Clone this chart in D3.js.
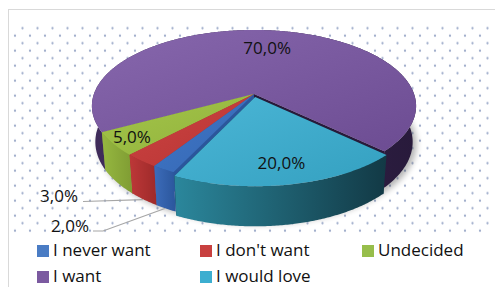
<!DOCTYPE html>
<meta charset="utf-8">
<script src="https://d3js.org/d3.v7.min.js"></script>
<style>
  body { margin: 0; background: #fff; }
  text { font-family: "Open Sans", sans-serif; }
</style>
<div id="chart"></div>
<script>

// data
var categories = ["I never want", "I don't want", "Undecided", "I want", "I would love"];
var values = [2, 3, 5, 70, 20];
var labels = ["2,0%", "3,0%", "5,0%", "70,0%", "20,0%"];

var topColors  = [["#4178c6", "#3466b4"], ["#cc4442", "#b83434"], ["#a3c54a", "#92b23c"], ["#8767ad", "#6c4c92"], ["#4bb6d6", "#34a0c0"]];
var wallColors = [["#3c6cba", "#2b569c"], ["#bd3838", "#9e2a2a"], ["#96b840", "#7f9c33"], ["#3f2b5a", "#281a3b"], ["#2b879c", "#123945"]];
var legendColors = ["#4a7cc4", "#c8403f", "#97be4b", "#7b5aa0", "#3caed0"];

var W = 495, H = 287;

var svg = d3.select("#chart").append("svg")
    .attr("width", W)
    .attr("height", H);

var defs = svg.append("defs");

// dotted plot area
var pat = defs.append("pattern")
    .attr("id", "dots")
    .attr("patternUnits", "userSpaceOnUse")
    .attr("x", 0).attr("y", 5.7)
    .attr("width", 15).attr("height", 15);
[[0, 0], [15, 0], [0, 15], [15, 15], [7.5, 7.5]].forEach(function(p) {
  pat.append("circle").attr("cx", p[0]).attr("cy", p[1]).attr("r", 1.15).attr("fill", "#9eacca");
});

svg.append("rect")
    .attr("x", 8.5).attr("y", 9.5)
    .attr("width", W).attr("height", H)
    .attr("fill", "#fff")
    .attr("stroke", "#d9d9d9");

svg.append("rect")
    .attr("x", 12).attr("y", 24)
    .attr("width", 481).attr("height", 209)
    .attr("fill", "url(#dots)");

// perspective projection of the 3d pie
var cx = 254, cy = 94, f = 898, dist = 5.61, elev = 27.6 * Math.PI / 180, depth = 0.256;
var se = Math.sin(elev), ce = Math.cos(elev);

function proj(a, r, h, off) {
  var u = off[0] + r * Math.sin(a),
      v = off[1] - r * Math.cos(a);
  var Y = v * se - h * ce,
      Z = dist - v * ce - h * se;
  return [cx + f * u / Z, cy + f * Y / Z];
}

function arcPts(a0, a1, h, off) {
  var n = Math.max(2, Math.ceil(Math.abs(a1 - a0) / 0.01)), pts = [];
  for (var i = 0; i <= n; i++) pts.push(proj(a0 + (a1 - a0) * i / n, 1, h, off));
  return pts;
}

var line = d3.line();
var start = 205.5 * Math.PI / 180;
var arcs = d3.pie().sort(null).startAngle(start).endAngle(start + 2 * Math.PI)(values);

// explode only the "I would love" slice a little
arcs.forEach(function(d, i) {
  var m = (d.startAngle + d.endAngle) / 2, ex = i === 4 ? 0.04 : 0;
  d.off = [ex * Math.sin(m), -ex * Math.cos(m)];
  d.mid = m;
});

function grad(id, c, x2, y2) {
  var g = defs.append("linearGradient").attr("id", id)
      .attr("x1", 0).attr("y1", 0).attr("x2", x2).attr("y2", y2);
  g.append("stop").attr("offset", "0%").attr("stop-color", c[0]);
  g.append("stop").attr("offset", "100%").attr("stop-color", c[1]);
}
categories.forEach(function(c, i) {
  grad("top" + i, topColors[i], 1, 1);
  grad("wall" + i, wallColors[i], 1, 0);
});

// soft shadow
defs.append("filter").attr("id", "blur").attr("x", "-20%").attr("y", "-20%").attr("width", "140%").attr("height", "140%")
  .append("feGaussianBlur").attr("stdDeviation", 3);
svg.append("path")
    .attr("d", line(arcPts(0, 2 * Math.PI, -depth, [0.02, 0.02])) + "Z")
    .attr("fill", "#000")
    .attr("opacity", 0.3)
    .attr("filter", "url(#blur)");

var order = [3, 2, 1, 0, 4];
var pie = svg.append("g");

// radial walls
order.forEach(function(i) {
  var d = arcs[i];
  [d.startAngle, d.endAngle].forEach(function(a) {
    var pts = [proj(0, 0, 0, d.off), proj(a, 1, 0, d.off), proj(a, 1, -depth, d.off), proj(0, 0, -depth, d.off)];
    pie.append("path").attr("d", line(pts) + "Z").attr("fill", wallColors[i][1]);
  });
});

// outer walls
order.forEach(function(i) {
  var d = arcs[i];
  var pts = arcPts(d.startAngle, d.endAngle, 0, d.off).concat(arcPts(d.endAngle, d.startAngle, -depth, d.off));
  pie.append("path").attr("d", line(pts) + "Z").attr("fill", "url(#wall" + i + ")");
});

// top faces
order.forEach(function(i) {
  var d = arcs[i];
  var pts = [proj(0, 0, 0, d.off)].concat(arcPts(d.startAngle, d.endAngle, 0, d.off));
  pie.append("path").attr("d", line(pts) + "Z").attr("fill", "url(#top" + i + ")");
});

// labels inside the big slices
var inside = {2: 0.88, 3: 0.7, 4: 0.78};
Object.keys(inside).forEach(function(k) {
  var d = arcs[k], p = proj(d.mid, inside[k], 0, d.off);
  svg.append("text")
      .attr("x", p[0]).attr("y", p[1] + 6)
      .attr("text-anchor", "middle")
      .style("font-size", "17px")
      .attr("fill", "#111")
      .text(labels[k]);
});

// outside labels with leader lines
var outside = [{i: 1, x: 78, y: 202, path: [[83, 201.5]]},
               {i: 0, x: 89, y: 232, path: [[93, 231], [103, 231]]}];
outside.forEach(function(o) {
  var d = arcs[o.i], p = proj(d.mid, 1, -depth, d.off);
  svg.append("path")
      .attr("d", line(o.path.concat([[p[0] - 1, p[1]]])))
      .attr("fill", "none")
      .attr("stroke", "#a6a6a6")
      .attr("stroke-width", 1.2);
  svg.append("text")
      .attr("x", o.x).attr("y", o.y)
      .attr("text-anchor", "end")
      .style("font-size", "17px")
      .attr("fill", "#111")
      .text(labels[o.i]);
});

// legend
var legX = [37, 200, 362], legY = [245, 271];
var legend = svg.append("g");
categories.forEach(function(c, i) {
  var x = legX[i % 3], y = legY[Math.floor(i / 3)];
  legend.append("rect").attr("x", x).attr("y", y).attr("width", 12).attr("height", 12).attr("fill", legendColors[i]);
  legend.append("text")
      .attr("x", x + 16).attr("y", y + 11)
      .style("font-size", "17px")
      .attr("fill", "#111")
      .text(c);
});

</script>
